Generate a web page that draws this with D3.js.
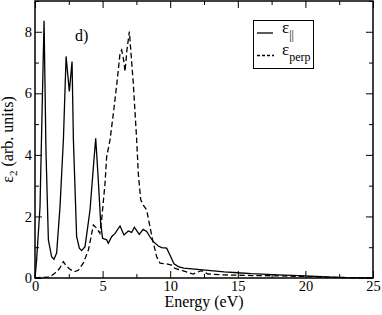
<!DOCTYPE html>
<html>
<head lang="en">
	<meta charset="UTF-8">
	<title>eps2</title>
	<style>
	body { margin: 0; background: #fff; }
	.tick line { stroke: #000; stroke-width: 1; }
	.line { fill: none; stroke: #000; stroke-width: 1.3; }
	</style>
	<script src="https://d3js.org/d3.v7.min.js"></script>
</head>
<body>
<script>
	// energy (eV) and eps2 for the parallel component
	var parE = [0, 0.12, 0.37, 0.67, 0.81, 0.99, 1.23, 1.4, 1.6, 1.85, 2.1, 2.3, 2.54, 2.74, 2.84, 3.08, 3.28, 3.45, 3.7, 4.07, 4.32, 4.49, 4.68, 4.86, 5.0, 5.3, 5.42, 5.67, 5.92, 6.29, 6.58, 6.9, 7.15, 7.35, 7.71, 8.0, 8.26, 8.5, 8.75, 9.12, 9.37, 9.74, 9.98, 10.28, 10.6, 11, 12, 13, 14, 15, 16, 18, 20, 22, 23, 25];
	var parV = [0, 0.59, 2.3, 8.36, 4.16, 1.24, 0.69, 0.61, 0.81, 2.32, 4.49, 7.2, 6.06, 7.03, 4.49, 1.34, 0.97, 0.89, 1.02, 2.21, 3.62, 4.54, 3.19, 1.78, 1.29, 1.24, 1.13, 1.34, 1.45, 1.69, 1.40, 1.53, 1.48, 1.65, 1.42, 1.58, 1.51, 1.34, 1.18, 1.04, 0.99, 0.97, 0.75, 0.46, 0.37, 0.32, 0.28, 0.24, 0.2, 0.17, 0.14, 0.1, 0.07, 0.03, 0.01, 0];

	// perpendicular component
	var perpE = [0, 0.5, 1.1, 1.48, 1.8, 2.1, 2.3, 2.54, 2.9, 3.2, 3.57, 3.95, 4.32, 4.56, 4.8, 4.93, 5.18, 5.3, 5.55, 5.8, 6.05, 6.29, 6.41, 6.55, 6.66, 6.8, 6.98, 7.1, 7.27, 7.52, 7.64, 7.82, 8.01, 8.26, 8.5, 8.7, 9.0, 9.25, 9.74, 10.1, 10.36, 10.97, 11.7, 12.3, 12.8, 14, 16, 18, 20, 22, 25];
	var perpV = [0, 0.02, 0.03, 0.16, 0.3, 0.53, 0.4, 0.3, 0.2, 0.25, 0.48, 0.91, 1.72, 1.62, 1.45, 1.89, 3.08, 3.94, 4.49, 5.36, 6.3, 7.3, 7.41, 7.1, 6.71, 7.4, 8.01, 7.3, 6.33, 4.49, 3.4, 2.54, 2.37, 2.21, 1.67, 1.24, 0.69, 0.48, 0.46, 0.42, 0.31, 0.23, 0.13, 0.24, 0.13, 0.1, 0.08, 0.07, 0.05, 0.02, 0];

	var xTicks = [0, 5, 10, 15, 20, 25];
	var xMinor = [2.5, 7.5, 12.5, 17.5, 22.5];
	var yTicks = [0, 2, 4, 6, 8];
	var yMinor = [1, 3, 5, 7, 9];

	var width = 382, height = 315;
	var margin = {top: 1, right: 9, bottom: 37, left: 35};
	var w = width - margin.left - margin.right;
	var h = height - margin.top - margin.bottom;

	var serif = "'Times New Roman', Times, 'Liberation Serif', 'DejaVu Serif', serif";

	var svg = d3.select("body").append("svg")
		.attr("width", width)
		.attr("height", height)
		.style("font-family", serif);

	var g = svg.append("g")
		.attr("transform", "translate(" + margin.left + "," + margin.top + ")");

	var x = d3.scaleLinear().domain([0, 25]).range([0, w]);
	var y = d3.scaleLinear().domain([0, 9]).range([h, 0]);

	// ticks point inward on all four sides
	function ticks(axis, vals, size, labels){
		return axis.tickValues(vals).tickSize(-size).tickSizeOuter(0)
			.tickPadding(labels ? 3 : 0)
			.tickFormat(labels ? d3.format("d") : "");
	}

	g.append("g").attr("transform", "translate(0," + h + ")")
		.call(ticks(d3.axisBottom(x), xTicks, 7, true));
	g.append("g").attr("transform", "translate(0," + h + ")")
		.call(ticks(d3.axisBottom(x), xMinor, 4, false));
	g.append("g").call(ticks(d3.axisTop(x), xTicks, 7, false));
	g.append("g").call(ticks(d3.axisTop(x), xMinor, 4, false));

	g.append("g").call(ticks(d3.axisLeft(y), yTicks, 7, true));
	g.append("g").call(ticks(d3.axisLeft(y), yMinor, 4, false));
	g.append("g").attr("transform", "translate(" + w + ",0)")
		.call(ticks(d3.axisRight(y), yTicks, 7, false));
	g.append("g").attr("transform", "translate(" + w + ",0)")
		.call(ticks(d3.axisRight(y), yMinor, 4, false));

	g.selectAll(".domain").remove();
	g.selectAll("g").attr("font-family", null).attr("font-size", 14.5);

	g.append("rect")
		.attr("width", w).attr("height", h)
		.attr("fill", "none").attr("stroke", "#000").attr("stroke-width", 1.5);

	var line = d3.line()
		.x(function(d){ return x(d[0]); })
		.y(function(d){ return y(d[1]); });

	g.append("path").attr("class", "line")
		.attr("d", line(d3.zip(parE, parV)));
	g.append("path").attr("class", "line")
		.attr("stroke-dasharray", "5.5,3")
		.attr("d", line(d3.zip(perpE, perpV)));

	// panel label
	svg.append("text").attr("x", 75).attr("y", 41)
		.attr("font-size", 16).text("d)");

	// axis titles
	svg.append("text")
		.attr("x", margin.left + w / 2).attr("y", 307)
		.attr("text-anchor", "middle")
		.attr("font-size", 16)
		.text("Energy (eV)");

	var yl = svg.append("text")
		.attr("transform", "translate(13," + (margin.top + h / 2) + ")rotate(-90)")
		.attr("text-anchor", "middle")
		.attr("font-size", 16);
	yl.append("tspan").text("\u03b5");
	yl.append("tspan").attr("dy", 4).attr("font-size", 11).text("2");
	yl.append("tspan").attr("dy", -4).text(" (arb. units)");

	// legend
	var lg = svg.append("g");
	lg.append("rect").attr("x", 253.5).attr("y", 20.5).attr("width", 60).attr("height", 48)
		.attr("fill", "#fff").attr("stroke", "#000").attr("stroke-width", 1);
	lg.append("line").attr("x1", 257).attr("x2", 273).attr("y1", 33).attr("y2", 33)
		.attr("stroke", "#000").attr("stroke-width", 1.3);
	lg.append("line").attr("x1", 257).attr("x2", 274).attr("y1", 55.5).attr("y2", 55.5)
		.attr("stroke", "#000").attr("stroke-width", 1.3).attr("stroke-dasharray", "3,2");
	var t1 = lg.append("text").attr("x", 282).attr("y", 33).attr("font-size", 17);
	t1.append("tspan").text("\u03b5");
	t1.append("tspan").attr("dy", 6).attr("font-size", 12).text("||");
	var t2 = lg.append("text").attr("x", 282).attr("y", 55).attr("font-size", 17);
	t2.append("tspan").text("\u03b5");
	t2.append("tspan").attr("dy", 6).attr("font-size", 12).text("perp");
</script>
</body>
</html>
